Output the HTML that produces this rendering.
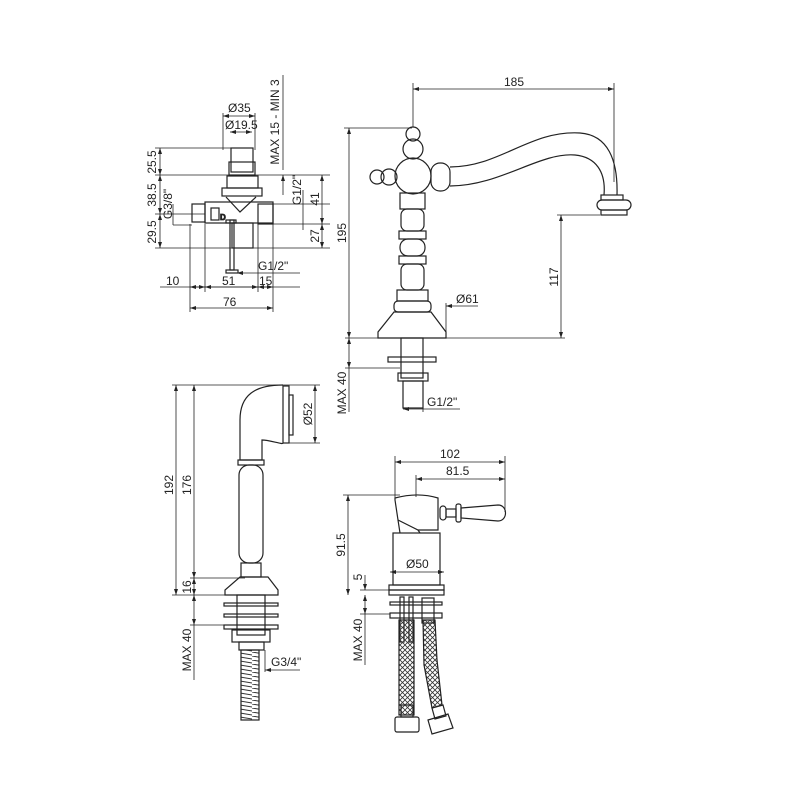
<!DOCTYPE html>
<html><head><meta charset="utf-8"><style>
html,body{margin:0;padding:0;background:#fff;}
svg{display:block;}
text{font-family:"Liberation Sans",sans-serif;font-size:12px;fill:#222;}
</style></head><body>
<svg width="800" height="800" viewBox="0 0 800 800" xmlns="http://www.w3.org/2000/svg">
<defs>
<marker id="a" markerWidth="6" markerHeight="6" refX="6" refY="3" orient="auto-start-reverse" markerUnits="userSpaceOnUse"><path d="M0,1 L6,3 L0,5z" fill="#222"/></marker>
<pattern id="h" width="5" height="5" patternUnits="userSpaceOnUse"><path d="M0,0 L5,5 M5,0 L0,5" stroke="#333" stroke-width="0.8"/></pattern>
<pattern id="hs" width="18" height="4" patternUnits="userSpaceOnUse"><path d="M0,0 L18,3" stroke="#333" stroke-width="1"/></pattern>
</defs>
<g fill="none" stroke="#222" stroke-width="0.8">
<!-- ===== TOP LEFT ===== -->
<line x1="223" y1="113" x2="223" y2="150"/><line x1="255" y1="113" x2="255" y2="150"/>
<line x1="223" y1="116" x2="255" y2="116" marker-start="url(#a)" marker-end="url(#a)"/>
<line x1="230" y1="132" x2="252" y2="132" marker-start="url(#a)" marker-end="url(#a)"/>
<g stroke-width="1.2">
<rect x="231" y="148" width="22" height="24"/>
<rect x="229" y="162" width="26" height="13"/>
<rect x="227" y="176" width="31" height="12"/>
<rect x="222" y="188" width="40" height="8"/>
<rect x="205" y="202" width="68" height="21"/>
<rect x="192" y="204" width="13" height="18"/>
<rect x="258" y="204" width="15" height="20"/>
<rect x="211" y="208" width="8" height="12"/>
<rect x="232" y="223" width="21" height="25"/>
<path d="M226 197 L240 212 L256 197"/>
<rect x="230" y="220" width="4" height="50"/>
<rect x="226" y="270" width="12" height="3"/>
<rect x="226" y="220" width="10" height="3"/>
</g>
<text x="220" y="220" style="font-size:8px;font-weight:bold">D</text>
<!-- left dims -->
<line x1="155" y1="148" x2="231" y2="148"/>
<line x1="155" y1="175" x2="330" y2="175"/>
<line x1="155" y1="214" x2="205" y2="214"/>
<line x1="155" y1="248" x2="330" y2="248"/>
<line x1="160" y1="148" x2="160" y2="175" marker-start="url(#a)" marker-end="url(#a)"/>
<line x1="160" y1="175" x2="160" y2="214" marker-start="url(#a)" marker-end="url(#a)"/>
<line x1="160" y1="214" x2="160" y2="248" marker-start="url(#a)" marker-end="url(#a)"/>
<line x1="173" y1="204" x2="173" y2="225"/><line x1="173" y1="225" x2="192" y2="225"/>
<!-- right dims -->
<line x1="283" y1="75" x2="283" y2="170" />
<line x1="283" y1="175" x2="283" y2="195" marker-start="url(#a)"/>
<line x1="303" y1="190" x2="303" y2="230"/>
<line x1="273" y1="204" x2="330" y2="204"/><line x1="273" y1="224" x2="330" y2="224"/>
<line x1="322" y1="175" x2="322" y2="224" marker-start="url(#a)" marker-end="url(#a)"/>
<line x1="322" y1="224" x2="322" y2="248" marker-start="url(#a)" marker-end="url(#a)"/>
<!-- bottom dims -->
<line x1="237" y1="273" x2="300" y2="273" marker-start="url(#a)"/>
<line x1="190" y1="224" x2="190" y2="312"/><line x1="205" y1="224" x2="205" y2="292"/>
<line x1="258" y1="224" x2="258" y2="292"/><line x1="273" y1="224" x2="273" y2="312"/>
<line x1="160" y1="287" x2="300" y2="287"/>
<line x1="190" y1="287" x2="205" y2="287" marker-start="url(#a)" marker-end="url(#a)"/>
<line x1="205" y1="287" x2="258" y2="287" marker-start="url(#a)" marker-end="url(#a)"/>
<line x1="258" y1="287" x2="273" y2="287" marker-start="url(#a)" marker-end="url(#a)"/>
<line x1="190" y1="308" x2="273" y2="308" marker-start="url(#a)" marker-end="url(#a)"/>

<!-- ===== TOP RIGHT ===== -->
<line x1="413" y1="83" x2="413" y2="127"/><line x1="614" y1="83" x2="614" y2="182"/>
<line x1="413" y1="89" x2="614" y2="89" marker-start="url(#a)" marker-end="url(#a)"/>
<line x1="344" y1="128" x2="412" y2="128"/>
<line x1="349" y1="128" x2="349" y2="338" marker-start="url(#a)" marker-end="url(#a)"/>
<g stroke-width="1.2">
<circle cx="413" cy="134" r="7"/>
<circle cx="413" cy="149" r="10"/>
<circle cx="413" cy="176" r="18"/>
<circle cx="377" cy="177" r="7"/>
<circle cx="389" cy="177" r="8"/>
<rect x="431" y="163" width="19" height="28" rx="9"/>
<path d="M450 167 C500 167 530 130 580 133 C608 135 618 160 617 195"/>
<path d="M450 186 C500 186 540 152 575 155 C596 157 606 172 604 195"/>
<rect x="601" y="195" width="22" height="5"/>
<rect x="597" y="200" width="34" height="10" rx="5"/>
<rect x="601" y="210" width="26" height="5"/>
<rect x="400" y="193" width="25" height="16"/>
<rect x="401" y="209" width="23" height="22" rx="6"/>
<rect x="399" y="231" width="27" height="8"/>
<rect x="400" y="239" width="25" height="17" rx="8"/>
<rect x="399" y="256" width="27" height="8"/>
<rect x="401" y="264" width="23" height="26" rx="6"/>
<rect x="397" y="290" width="31" height="11"/>
<rect x="394" y="301" width="37" height="11" rx="4"/>
<path d="M394 312 L378 332 L378 338 L446 338 L446 332 L431 312Z"/>
<rect x="401" y="338" width="22" height="40"/>
<rect x="388" y="357" width="48" height="5"/>
<rect x="398" y="373" width="30" height="8"/>
<rect x="403" y="381" width="20" height="27"/>
</g>
<line x1="446" y1="303" x2="446" y2="338"/>
<line x1="446" y1="306" x2="478" y2="306" marker-start="url(#a)"/>
<line x1="345" y1="338" x2="565" y2="338"/>
<line x1="557" y1="215" x2="600" y2="215"/>
<line x1="561" y1="215" x2="561" y2="338" marker-start="url(#a)" marker-end="url(#a)"/>
<line x1="345" y1="368" x2="400" y2="368"/>
<line x1="349" y1="338" x2="349" y2="368" marker-start="url(#a)" marker-end="url(#a)"/>
<line x1="349" y1="368" x2="349" y2="412"/>
<line x1="403" y1="409" x2="460" y2="409" marker-start="url(#a)"/>
<line x1="423" y1="408" x2="423" y2="412"/>

<!-- ===== BOTTOM LEFT ===== -->
<line x1="172" y1="385" x2="320" y2="385"/>
<line x1="176" y1="385" x2="176" y2="595" marker-start="url(#a)" marker-end="url(#a)"/>
<line x1="194" y1="385" x2="194" y2="578" marker-start="url(#a)" marker-end="url(#a)"/>
<line x1="194" y1="578" x2="194" y2="595" marker-start="url(#a)" marker-end="url(#a)"/>
<line x1="190" y1="578" x2="245" y2="578"/>
<line x1="172" y1="595" x2="278" y2="595"/>
<line x1="285" y1="443" x2="320" y2="443"/>
<line x1="315" y1="385" x2="315" y2="443" marker-start="url(#a)" marker-end="url(#a)"/>
<g stroke-width="1.2">
<path d="M283 385 C255 385 240 395 240 420 L240 460 L262 460 L262 440 C270 440 283 445 283 443"/>
<rect x="283" y="386" width="6" height="57"/>
<rect x="289" y="395" width="4" height="40"/>
<rect x="238" y="460" width="26" height="5"/>
<rect x="239" y="465" width="24" height="98" rx="10"/>
<rect x="241" y="563" width="20" height="14"/>
<path d="M240 577 L268 577 L278 590 L278 595 L225 595 L225 590Z"/>
<rect x="237" y="595" width="28" height="40"/>
<rect x="224" y="603" width="54" height="3"/>
<rect x="224" y="614" width="54" height="3"/>
<rect x="224" y="625" width="54" height="4"/>
<rect x="232" y="630" width="38" height="12"/>
<rect x="239" y="642" width="25" height="8"/>
<rect x="241" y="650" width="18" height="70" fill="url(#hs)"/>
</g>
<line x1="190" y1="625" x2="224" y2="625"/>
<line x1="194" y1="595" x2="194" y2="625" marker-start="url(#a)" marker-end="url(#a)"/>
<line x1="194" y1="625" x2="194" y2="680"/>
<line x1="265" y1="650" x2="265" y2="672"/>
<line x1="265" y1="670" x2="300" y2="670" marker-start="url(#a)"/>

<!-- ===== BOTTOM RIGHT ===== -->
<line x1="395" y1="456" x2="395" y2="500"/><line x1="505" y1="456" x2="505" y2="512"/>
<line x1="416" y1="475" x2="416" y2="497"/>
<line x1="395" y1="462" x2="505" y2="462" marker-start="url(#a)" marker-end="url(#a)"/>
<line x1="416" y1="479" x2="505" y2="479" marker-start="url(#a)" marker-end="url(#a)"/>
<line x1="343" y1="495" x2="400" y2="495"/>
<line x1="348" y1="495" x2="348" y2="595" marker-start="url(#a)" marker-end="url(#a)"/>
<g stroke-width="1.2">
<path d="M395 498 C410 494 425 494 438 498 L438 530 L418 530 L398 520 L395 500Z"/>
<path d="M398 520 L400 533 M418 530 L420 533"/>
<rect x="440" y="506" width="6" height="14" rx="3"/>
<rect x="446" y="509" width="10" height="8"/>
<rect x="456" y="504" width="5" height="18" rx="2"/>
<path d="M461 508 L498 505 C508 505 508 521 498 521 L461 518Z"/>
<rect x="393" y="533" width="47" height="52"/>
<rect x="389" y="585" width="55" height="5"/>
<rect x="389" y="590" width="55" height="5"/>
<rect x="390" y="602" width="52" height="3"/>
<rect x="390" y="613" width="52" height="5"/>
<rect x="400" y="597" width="4" height="45"/><rect x="409" y="597" width="4" height="45"/>
<rect x="422" y="598" width="12" height="25"/>
<rect x="399" y="620" width="15" height="95" fill="url(#h)"/>
<path d="M423 620 L435 620 L437 660 L442 705 L432 708 L424 665Z" fill="url(#h)"/>
<rect x="401" y="705" width="12" height="12"/>
<rect x="395" y="717" width="24" height="15" rx="2"/>
<path d="M432 708 L443 705 L446 716 L435 719Z"/>
<path d="M428 720 L448 714 L453 728 L432 734Z"/>
</g>
<line x1="390" y1="572" x2="444" y2="572" marker-start="url(#a)" marker-end="url(#a)"/>
<line x1="360" y1="590" x2="390" y2="590"/>
<line x1="360" y1="614" x2="390" y2="614"/>
<line x1="365" y1="575" x2="365" y2="590" marker-end="url(#a)"/>
<line x1="365" y1="595" x2="365" y2="614" marker-start="url(#a)" marker-end="url(#a)"/>
<line x1="365" y1="614" x2="365" y2="665"/>
</g>
<!-- texts -->
<text x="228" y="112">Ø35</text>
<text x="225" y="129">Ø19.5</text>
<text transform="translate(156,162) rotate(-90)" text-anchor="middle">25.5</text>
<text transform="translate(156,195) rotate(-90)" text-anchor="middle">38.5</text>
<text transform="translate(156,232) rotate(-90)" text-anchor="middle">29.5</text>
<text transform="translate(172,204) rotate(-90)" text-anchor="middle">G3/8"</text>
<text transform="translate(279,122) rotate(-90)" text-anchor="middle">MAX 15 - MIN 3</text>
<text transform="translate(301,190) rotate(-90)" text-anchor="middle">G1/2"</text>
<text transform="translate(319,199) rotate(-90)" text-anchor="middle">41</text>
<text transform="translate(319,236) rotate(-90)" text-anchor="middle">27</text>
<text x="258" y="270">G1/2"</text>
<text x="166" y="285">10</text>
<text x="222" y="285">51</text>
<text x="259" y="285">15</text>
<text x="223" y="306">76</text>
<text x="504" y="86">185</text>
<text transform="translate(346,233) rotate(-90)" text-anchor="middle">195</text>
<text transform="translate(558,277) rotate(-90)" text-anchor="middle">117</text>
<text x="456" y="303">Ø61</text>
<text transform="translate(346,393) rotate(-90)" text-anchor="middle">MAX 40</text>
<text x="427" y="406">G1/2"</text>
<text transform="translate(173,485) rotate(-90)" text-anchor="middle">192</text>
<text transform="translate(191,485) rotate(-90)" text-anchor="middle">176</text>
<text transform="translate(191,587) rotate(-90)" text-anchor="middle">16</text>
<text transform="translate(312,414) rotate(-90)" text-anchor="middle">Ø52</text>
<text transform="translate(191,650) rotate(-90)" text-anchor="middle">MAX 40</text>
<text x="271" y="666">G3/4"</text>
<text x="440" y="458">102</text>
<text x="446" y="475">81.5</text>
<text transform="translate(345,545) rotate(-90)" text-anchor="middle">91.5</text>
<text transform="translate(362,577) rotate(-90)" text-anchor="middle">5</text>
<text x="406" y="568">Ø50</text>
<text transform="translate(362,640) rotate(-90)" text-anchor="middle">MAX 40</text>
</svg>
</body></html>
